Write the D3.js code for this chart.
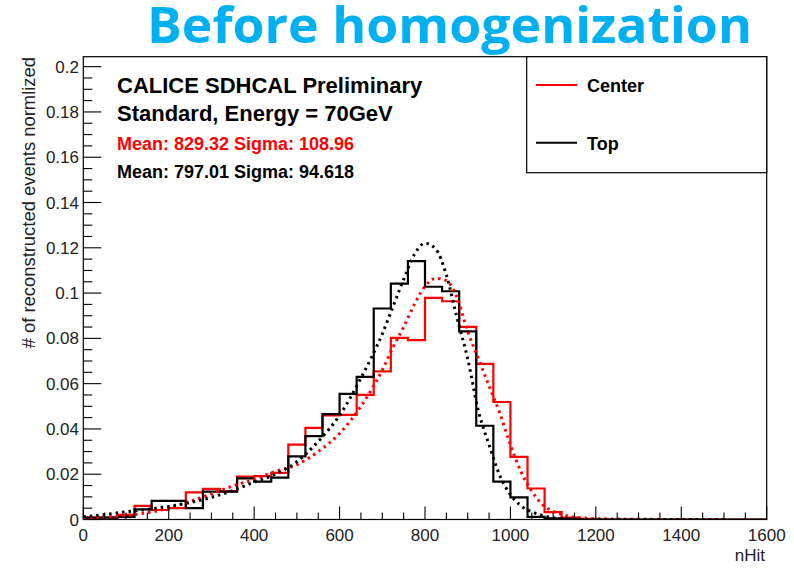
<!DOCTYPE html>
<html>
<head>
<meta charset="utf-8">
<script src="https://cdn.jsdelivr.net/npm/d3@7"></script>
<style>
  body { margin: 0; background: #fff; }
  svg { display: block; }
</style>
</head>
<body>
<div id="chart"></div>
<script>
// histogram bins: 40 bins of width 40 over 0..1600
var binEdges = d3.range(0, 1600, 40);

var centerHist = [0.0008, 0.0008, 0.0020, 0.0060, 0.0042, 0.0050, 0.0120, 0.0135, 0.0125, 0.0190,
                  0.0192, 0.0206, 0.0331, 0.0405, 0.0460, 0.0462, 0.0550, 0.0654, 0.0802, 0.0792,
                  0.0979, 0.0964, 0.0851, 0.0687, 0.0519, 0.0277, 0.0137, 0.0033, 0.0008, 0.0003,
                  0, 0, 0, 0, 0, 0, 0, 0, 0, 0];

var topHist = [0.0008, 0.0008, 0.0012, 0.0045, 0.0082, 0.0082, 0.0050, 0.0123, 0.0123, 0.0182,
               0.0167, 0.0185, 0.0279, 0.0368, 0.0465, 0.0555, 0.0630, 0.0932, 0.1042, 0.1141,
               0.1028, 0.1008, 0.0831, 0.0414, 0.0167, 0.0098, 0.0012, 0.0005, 0.0003, 0,
               0, 0, 0, 0, 0, 0, 0, 0, 0, 0];

// fit curves
var fitX = [0, 50, 100, 150, 200, 250, 300, 350, 400, 450, 500, 550, 600, 650, 700, 725, 750,
            775, 800, 825, 850, 875, 900, 925, 950, 975, 1000, 1025, 1050, 1075, 1100, 1125, 1150, 1200, 1250, 1300, 1400, 1500];
var centerFit = [0.0005, 0.0010, 0.0018, 0.0030, 0.0050, 0.0080, 0.0113, 0.0148, 0.0178, 0.0212, 0.0242, 0.0300, 0.0380, 0.0500, 0.0660, 0.0760, 0.0850,
                 0.0950, 0.1030, 0.1065, 0.1055, 0.0980, 0.0830, 0.0710, 0.0590, 0.0470, 0.0330, 0.0210, 0.0125, 0.0066, 0.0036, 0.0020, 0.0010, 0.0004, 0.0002, 0.0001, 0, 0];
var topFit = [0.0012, 0.0022, 0.0034, 0.0045, 0.0058, 0.0075, 0.0098, 0.0128, 0.0165, 0.0200, 0.0255, 0.0345, 0.0460, 0.0625, 0.0820, 0.0940, 0.1060,
              0.1170, 0.1220, 0.1195, 0.1080, 0.0890, 0.0710, 0.0480, 0.0330, 0.0195, 0.0110, 0.0060, 0.0034, 0.0018, 0.0008, 0.0004, 0.0002, 0, 0, 0, 0, 0];

var xTicks = [0, 200, 400, 600, 800, 1000, 1200, 1400, 1600];
var yTicks = [0, 0.02, 0.04, 0.06, 0.08, 0.1, 0.12, 0.14, 0.16, 0.18, 0.2];
var yTickLabels = ["0", "0.02", "0.04", "0.06", "0.08", "0.1", "0.12", "0.14", "0.16", "0.18", "0.2"];

var W = 794, H = 568;
var pLeft = 83.3, pRight = 766.7, pTop = 56.7, pBottom = 519.5;

var x = d3.scaleLinear().domain([0, 1600]).range([pLeft, pRight]);
var y = d3.scaleLinear().domain([0, 0.2044]).range([pBottom, pTop]);

var svg = d3.select("#chart").append("svg")
    .attr("width", W)
    .attr("height", H);

svg.append("rect").attr("width", W).attr("height", H).attr("fill", "#fff");

svg.append("defs").append("clipPath").attr("id", "plotclip")
  .append("rect")
    .attr("x", pLeft).attr("y", pTop)
    .attr("width", pRight - pLeft).attr("height", pBottom - pTop);

// title
svg.append("text")
    .attr("x", 147).attr("y", 43)
    .attr("font-family", "'Open Sans', 'Noto Sans', sans-serif")
    .attr("font-weight", "bold")
    .attr("font-size", 50)
    .attr("fill", "#00b0f0")
    .attr("textLength", 605)
    .attr("lengthAdjust", "spacingAndGlyphs")
    .text("Before homogenization");

var plot = svg.append("g").attr("clip-path", "url(#plotclip)");

function histPath(vals) {
  var pts = [[0, 0]];
  vals.forEach(function(v, i) { pts.push([binEdges[i], v]); });
  pts.push([1600, vals[vals.length - 1]]);
  return d3.line()
    .x(function(d) { return x(d[0]); })
    .y(function(d) { return y(d[1]); })
    .curve(d3.curveStepAfter)(pts);
}

function fitPath(vals) {
  return d3.line()
    .x(function(d, i) { return x(fitX[i]); })
    .y(function(d) { return y(d); })
    .curve(d3.curveMonotoneX)(vals);
}

plot.append("path").attr("d", histPath(centerHist))
    .attr("fill", "none").attr("stroke", "#ff0000").attr("stroke-width", 2.2);
plot.append("path").attr("d", histPath(topHist))
    .attr("fill", "none").attr("stroke", "#000").attr("stroke-width", 2.2);
plot.append("path").attr("d", fitPath(centerFit))
    .attr("fill", "none").attr("stroke", "#ff0000").attr("stroke-width", 3)
    .attr("stroke-dasharray", "2.5,4");
plot.append("path").attr("d", fitPath(topFit))
    .attr("fill", "none").attr("stroke", "#000").attr("stroke-width", 3)
    .attr("stroke-dasharray", "2.5,4");

// frame
svg.append("rect")
    .attr("x", pLeft).attr("y", pTop)
    .attr("width", pRight - pLeft).attr("height", pBottom - pTop)
    .attr("fill", "none").attr("stroke", "#000").attr("stroke-width", 1.2);

// x axis ticks (inward)
var xAxis = svg.append("g").attr("font-family", "'Liberation Sans', Arial, sans-serif");
xAxis.selectAll("line.minor")
    .data(d3.range(0, 1601, 50))
  .enter().append("line")
    .attr("x1", function(d) { return x(d); }).attr("x2", function(d) { return x(d); })
    .attr("y1", pBottom)
    .attr("y2", function(d) { return d % 200 === 0 ? pBottom - 13 : pBottom - 7; })
    .attr("stroke", "#000").attr("stroke-width", 1.1);
xAxis.selectAll("text")
    .data(xTicks)
  .enter().append("text")
    .attr("x", function(d) { return x(d); })
    .attr("y", 541)
    .attr("text-anchor", "middle")
    .attr("font-size", 17)
    .attr("fill", "#222")
    .text(function(d) { return d; });
svg.append("text")
    .attr("x", 765).attr("y", 561)
    .attr("text-anchor", "end")
    .attr("font-family", "'Liberation Sans', Arial, sans-serif")
    .attr("font-size", 17).attr("fill", "#222")
    .text("nHit");

// y axis ticks (inward)
var yAxis = svg.append("g").attr("font-family", "'Liberation Sans', Arial, sans-serif");
yAxis.selectAll("line")
    .data(d3.range(0, 41))
  .enter().append("line")
    .attr("y1", function(d) { return y(d * 0.005); }).attr("y2", function(d) { return y(d * 0.005); })
    .attr("x1", pLeft)
    .attr("x2", function(d) { return d % 4 === 0 ? pLeft + 18 : pLeft + 9; })
    .attr("stroke", "#000").attr("stroke-width", 1.1);
yAxis.selectAll("text")
    .data(yTicks)
  .enter().append("text")
    .attr("x", 79)
    .attr("y", function(d) { return y(d); })
    .attr("dy", "0.36em")
    .attr("text-anchor", "end")
    .attr("font-size", 17)
    .attr("fill", "#222")
    .text(function(d, i) { return yTickLabels[i]; });
svg.append("text")
    .attr("transform", "translate(35,57) rotate(-90)")
    .attr("text-anchor", "end")
    .attr("font-family", "'Liberation Sans', Arial, sans-serif")
    .attr("font-size", 18.4).attr("fill", "#222")
    .text("# of reconstructed events normlized");

// annotations
var info = svg.append("g")
    .attr("font-family", "'Liberation Sans', Arial, sans-serif")
    .attr("font-weight", "bold");
info.append("text").attr("x", 117).attr("y", 93).attr("font-size", 22).attr("fill", "#000")
    .text("CALICE SDHCAL Preliminary");
info.append("text").attr("x", 117).attr("y", 121).attr("font-size", 22).attr("fill", "#000")
    .text("Standard, Energy = 70GeV");
info.append("text").attr("x", 117).attr("y", 150).attr("font-size", 18).attr("fill", "#ff0000")
    .text("Mean: 829.32 Sigma: 108.96");
info.append("text").attr("x", 117).attr("y", 178).attr("font-size", 18).attr("fill", "#000")
    .text("Mean: 797.01 Sigma: 94.618");

// legend
var legendItems = [
  {name: "Center", color: "#ff0000", y: 85},
  {name: "Top", color: "#000", y: 142.7}
];
var legend = svg.append("g");
legend.append("rect")
    .attr("x", 526.7).attr("y", pTop)
    .attr("width", pRight - 526.7).attr("height", 172.7 - pTop)
    .attr("fill", "#fff").attr("stroke", "#000").attr("stroke-width", 1.2);
var li = legend.selectAll("g.item").data(legendItems).enter().append("g");
li.append("line")
    .attr("x1", 536).attr("x2", 577)
    .attr("y1", function(d) { return d.y; }).attr("y2", function(d) { return d.y; })
    .attr("stroke", function(d) { return d.color; }).attr("stroke-width", 2);
li.append("text")
    .attr("x", 587).attr("y", function(d) { return d.y + 7; })
    .attr("font-family", "'Liberation Sans', Arial, sans-serif")
    .attr("font-weight", "bold").attr("font-size", 18).attr("fill", "#000")
    .text(function(d) { return d.name; });
</script>
</body>
</html>
